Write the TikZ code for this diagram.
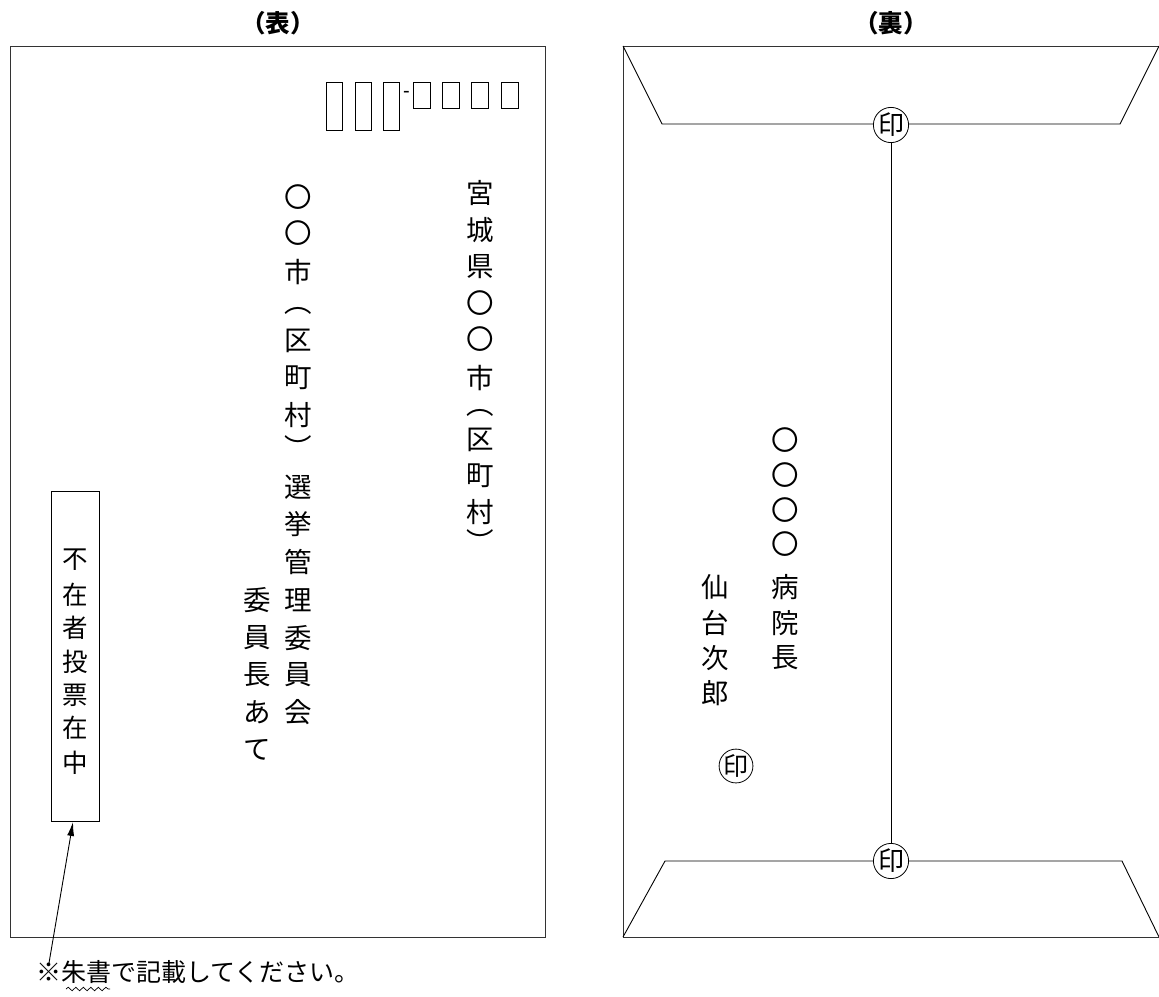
\documentclass[tikz,border=0pt]{standalone}
\usepackage{fontspec}
\newfontfamily\jp{Noto Sans CJK JP}
\newfontfamily\lat{Liberation Sans}
\usetikzlibrary{arrows.meta,decorations.pathmorphing,calc}
\begin{document}
\begin{tikzpicture}[x=1pt,y=-1pt,
  frame/.style={line width=1pt, draw=black!80},
  ln/.style={line width=0.9pt, draw=black},
  ch/.style={font=\jp\fontsize{27.5}{27.5}\selectfont, inner sep=0pt, anchor=center},
  chs/.style={font=\jp\fontsize{25.5}{25.5}\selectfont, inner sep=0pt, anchor=center},
  bigzip/.style={draw, line width=0.9pt, minimum width=16pt, minimum height=48pt, inner sep=0pt},
  smallzip/.style={draw, line width=0.9pt, minimum width=17pt, minimum height=26pt, inner sep=0pt},
  seal/.style={circle, draw, line width=0.8pt, fill=white, minimum size=35pt, inner sep=0pt,
    font=\jp\fontsize{26}{26}\selectfont},
  head/.style={font=\jp\bfseries\fontsize{24.5}{24.5}\selectfont, inner sep=0pt}]
\useasboundingbox (0,0) rectangle (1159,996);

% ---------- front (表) ----------
\node[head] (h1) at (278,23) {（表）};
\draw[frame] (10,46) rectangle (545,937);

\node[bigzip] (z1) at (334,106) {};
\node[bigzip] (z2) at (363,106) {};
\node[bigzip] (z3) at (391.5,106) {};
\node[font=\lat\fontsize{20}{20}\selectfont, inner sep=0pt] (zd) at (406.5,94) {-};
\node[smallzip] (z4) at (421.5,95) {};
\node[smallzip] (z5) at (451,95) {};
\node[smallzip] (z6) at (480,95) {};
\node[smallzip] (z7) at (509.5,95) {};

% column 1
\foreach \y/\c [count=\i] in {193/宮,230/城,267/県,303/〇,339/〇,378/市,413/︵,440/区,476/町,512/村,541/︶}
  \node[ch] (a\i) at (480,\y) {\c};
% column 2
\foreach \y/\c [count=\i] in {197/〇,233/〇,272/市,311/︵,341/区,378/町,415/村,447/︶,487/選,524/挙,562/管,600/理,638/委,675/員,712/会}
  \node[ch] (b\i) at (298,\y) {\c};
% column 3
\foreach \y/\c [count=\i] in {600/委,638/員,675/長,712/あ,750/て}
  \node[ch] (c\i) at (257,\y) {\c};

% box
\node[draw, line width=0.9pt, minimum width=48pt, minimum height=330pt, inner sep=0pt] (box) at (75.5,656.5) {};
\foreach \y/\c [count=\i] in {560/不,595/在,628/者,662/投,695/票,728/在,763/中}
  \node[chs] (d\i) at (75,\y) {\c};

\coordinate (tail) at (49,963);
\draw[line width=0.9pt, -{Latex[length=14pt,width=7pt]}] (tail) -- ($(box.south)+(-2.5,0)$);

\node[anchor=west, font=\jp\fontsize{25}{25}\selectfont, inner sep=0pt] (note) at (36,972) {※朱書で記載してください。};
\draw[line width=0.7pt, decorate, decoration={snake, segment length=7.5pt, amplitude=1.8pt}] (66,989) -- (110,989);

% ---------- back (裏) ----------
\node[head] (h2) at (891,23) {（裏）};
\draw[frame] (1159,46) -- (623,46) -- (623,937) -- (1159,937);
\draw[ln] (623,46) -- (662,124) -- (1120,124) -- (1159,46);
\draw[ln] (623,937) -- (665,861) -- (1122,861) -- (1159,937);
\node[seal] (s1) at (891,125) {印};
\node[seal] (s2) at (891,861) {印};
\draw[ln] (s1.south) -- (s2.north);

\foreach \y/\c [count=\i] in {440/〇,475/〇,510/〇,544/〇,587/病,623/院,658/長}
  \node[ch] (e\i) at (785,\y) {\c};
\foreach \y/\c [count=\i] in {587/仙,623/台,658/次,693/郎}
  \node[ch] (f\i) at (715,\y) {\c};
\node[seal, minimum size=33pt, font=\jp\fontsize{25}{25}\selectfont] (s3) at (736,766) {印};
\end{tikzpicture}
\end{document}
